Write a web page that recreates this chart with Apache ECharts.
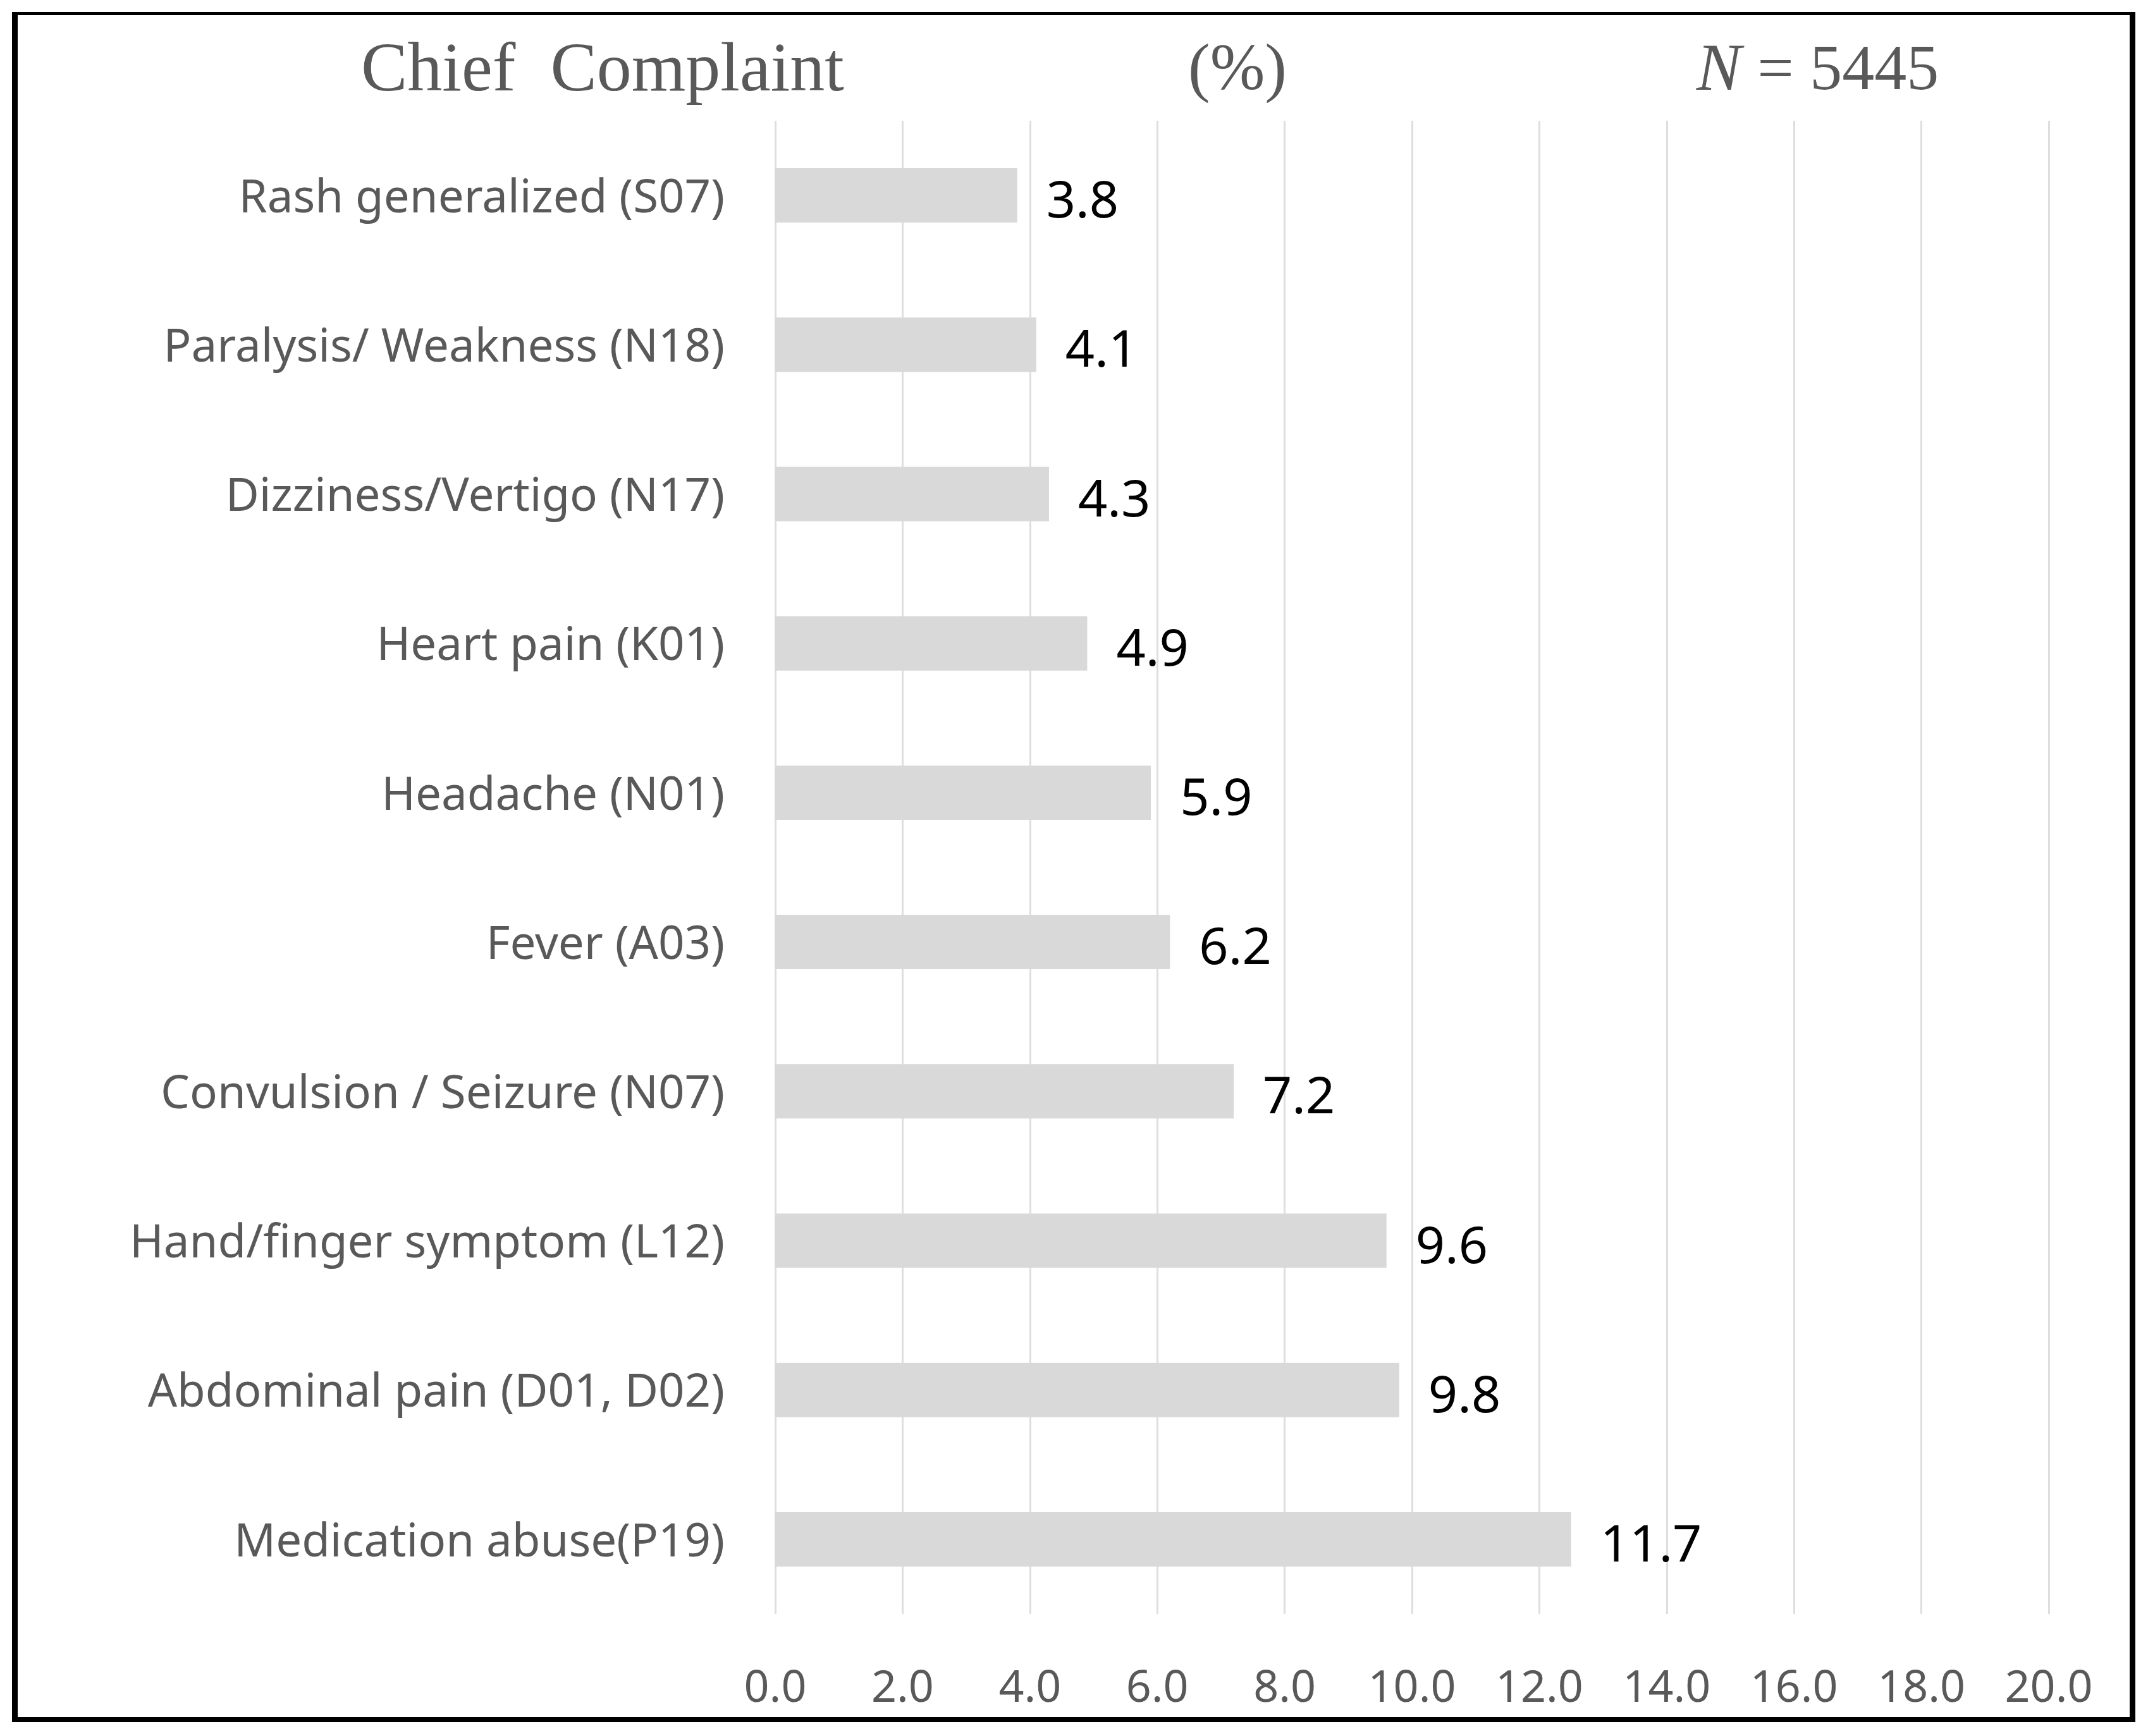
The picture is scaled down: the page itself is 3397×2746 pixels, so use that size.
<!DOCTYPE html>
<html>
<head>
<meta charset="utf-8">
<script src="https://cdn.jsdelivr.net/npm/echarts@6/dist/echarts.min.js"></script>
<style>
html,body{margin:0;padding:0;background:#fff;}
#chart{width:3397px;height:2746px;}
</style>
</head>
<body>
<div id="chart"></div>
<script>
// Categories top to bottom
var categories = [
  'Rash generalized (S07)',
  'Paralysis/ Weakness (N18)',
  'Dizziness/Vertigo (N17)',
  'Heart pain (K01)',
  'Headache (N01)',
  'Fever (A03)',
  'Convulsion / Seizure (N07)',
  'Hand/finger symptom (L12)',
  'Abdominal pain (D01, D02)',
  'Medication abuse(P19)'
];
// Bar lengths (%)
var barValues = [3.8, 4.1, 4.3, 4.9, 5.9, 6.2, 7.2, 9.6, 9.8, 12.5];
// Printed data labels
var dataLabels = ['3.8', '4.1', '4.3', '4.9', '5.9', '6.2', '7.2', '9.6', '9.8', '11.7'];
var axisMin = 0, axisMax = 20, axisStep = 2;
var titleLeft = 'Chief  Complaint';
var titleMid = '(%)';
var titleRightN = 'N';
var titleRightRest = ' = 5445';

var chart = echarts.init(document.getElementById('chart'), null, {renderer: 'canvas'});
var gray = '#595959';
var option = {
  animation: false,
  backgroundColor: '#ffffff',
  grid: {left: 1226, right: 157, top: 191, bottom: 193, containLabel: false},
  xAxis: {
    type: 'value', min: axisMin, max: axisMax, interval: axisStep,
    axisLine: {show: false}, axisTick: {show: false},
    splitLine: {show: true, lineStyle: {color: '#dedede', width: 3}},
    axisLabel: {
      color: gray, fontFamily: 'Noto Sans', fontSize: 70, margin: 84,
      formatter: function (v) { return v.toFixed(1); }
    }
  },
  yAxis: {
    type: 'category', data: categories, inverse: true,
    axisLine: {show: false}, axisTick: {show: false}, splitLine: {show: false},
    axisLabel: {
      margin: 80,
      formatter: function (v) { return '{c|' + v + '}'; },
      rich: {c: {color: gray, fontFamily: 'Noto Sans', fontSize: 72.7, padding: [12, 0, 0, 0]}}
    }
  },
  series: [{
    type: 'bar', data: barValues, barWidth: 86,
    itemStyle: {color: '#d9d9d9'},
    label: {
      show: true, position: 'right', distance: 46,
      color: '#000000', fontFamily: 'Noto Sans', fontSize: 81,
      offset: [0, 12],
      formatter: function (p) { return dataLabels[p.dataIndex]; }
    }
  }],
  graphic: [
    {type: 'rect', shape: {x: 19, y: 19, width: 9, height: 2705}, style: {fill: '#000'}},
    {type: 'rect', shape: {x: 3368, y: 19, width: 9, height: 2705}, style: {fill: '#000'}},
    {type: 'rect', shape: {x: 19, y: 19, width: 3358, height: 5}, style: {fill: '#000'}},
    {type: 'rect', shape: {x: 19, y: 2716, width: 3358, height: 8}, style: {fill: '#000'}},
    {type: 'text', x: 571, y: 114, style: {text: titleLeft, fill: gray, font: '110px "Liberation Serif"', verticalAlign: 'middle', align: 'left'}},
    {type: 'text', x: 1957, y: 114, style: {text: titleMid, fill: gray, font: '104px "Liberation Serif"', verticalAlign: 'middle', align: 'center'}},
    {type: 'text', x: 2683, y: 114, style: {
      text: '{i|' + titleRightN + '}{r|' + titleRightRest + '}',
      verticalAlign: 'middle', align: 'left',
      rich: {
        i: {fill: gray, fontFamily: 'Liberation Serif', fontStyle: 'italic', fontSize: 106},
        r: {fill: gray, fontFamily: 'Liberation Serif', fontSize: 102}
      }
    }}
  ]
};
chart.setOption(option);
</script>
</body>
</html>
